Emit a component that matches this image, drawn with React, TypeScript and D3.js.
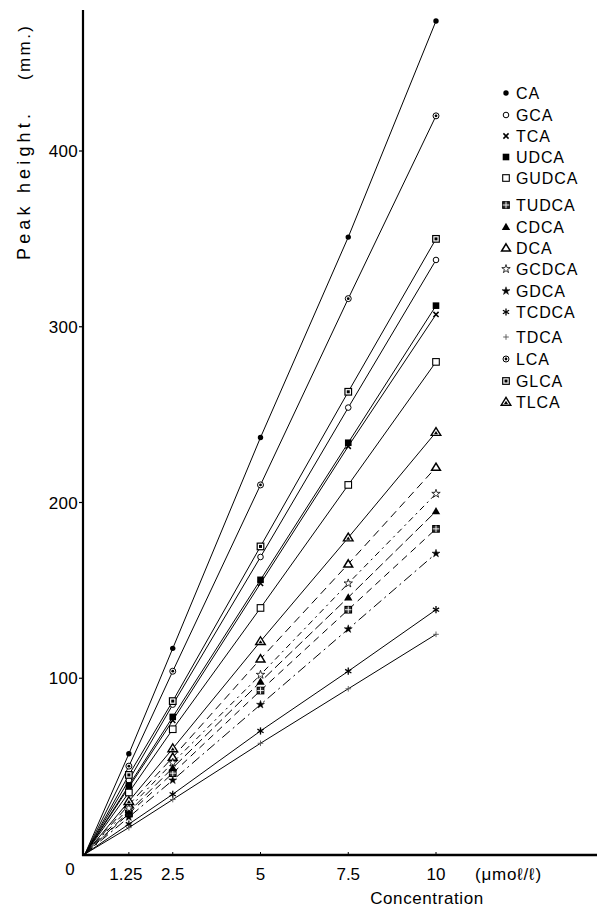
import React from "react";
import * as d3 from "d3";

const concentrations = [1.25, 2.5, 5, 7.5, 10];
const xTickLabels = ["1.25", "2.5", "5", "7.5", "10"];
const yTicks = [100, 200, 300, 400];

const seriesNames = ["CA", "GCA", "TCA", "UDCA", "GUDCA", "TUDCA", "CDCA", "DCA", "GCDCA", "GDCA", "TCDCA", "TDCA", "LCA", "GLCA", "TLCA"];

const CA = [57, 117, 237, 351, 474];
const GCA = [42, 85, 169, 254, 338];
const TCA = [38, 76, 154, 232, 307];
const UDCA = [39, 78, 156, 234, 312];
const GUDCA = [35, 71, 140, 210, 280];
const TUDCA = [23, 46, 93, 139, 185];
const CDCA = [24, 49, 98, 146, 195];
const DCA = [28, 55, 111, 165, 220];
const GCDCA = [26, 52, 102, 154, 205];
const GDCA = [21, 42, 85, 128, 171];
const TCDCA = [17, 34, 70, 104, 139];
const TDCA = [15, 31, 63, 94, 125];
const LCA = [50, 104, 210, 316, 420];
const GLCA = [45, 87, 175, 263, 350];
const TLCA = [30, 60, 121, 180, 240];

const seriesValues: Record<string, number[]> = { CA, GCA, TCA, UDCA, GUDCA, TUDCA, CDCA, DCA, GCDCA, GDCA, TCDCA, TDCA, LCA, GLCA, TLCA };

const markerType: Record<string, string> = {
  CA: "dot", GCA: "ocircle", TCA: "x", UDCA: "fsquare", GUDCA: "osquare", TUDCA: "xsquare",
  CDCA: "ftri", DCA: "otri", GCDCA: "ostar", GDCA: "fstar", TCDCA: "asterisk", TDCA: "plus",
  LCA: "dotcircle", GLCA: "dsquare", TLCA: "dtri",
};

const dashes: Record<string, string | undefined> = {
  DCA: "8,5", GCDCA: "6,4,2,4", CDCA: "10,4", TUDCA: "7,5", GDCA: "10,4,2,4",
};

const FONT = "'Liberation Sans', Arial, Helvetica, sans-serif";

function Marker({ type, cx, cy }: { type: string; cx: number; cy: number }) {
  const s = 3.3;
  const k = "#000";
  switch (type) {
    case "dot":
      return <circle cx={cx} cy={cy} r={2.7} fill={k} />;
    case "ocircle":
      return <circle cx={cx} cy={cy} r={2.8} fill="#fff" stroke={k} strokeWidth={1} />;
    case "dotcircle":
      return (
        <g>
          <circle cx={cx} cy={cy} r={3} fill="#fff" stroke={k} strokeWidth={1} />
          <circle cx={cx} cy={cy} r={1.4} fill={k} />
        </g>
      );
    case "x":
      return (
        <g stroke={k} strokeWidth={1.5}>
          <line x1={cx - 2.6} y1={cy - 2.6} x2={cx + 2.6} y2={cy + 2.6} />
          <line x1={cx - 2.6} y1={cy + 2.6} x2={cx + 2.6} y2={cy - 2.6} />
        </g>
      );
    case "fsquare":
      return <rect x={cx - s} y={cy - s} width={2 * s} height={2 * s} fill={k} />;
    case "osquare":
      return <rect x={cx - s} y={cy - s} width={2 * s} height={2 * s} fill="#fff" stroke={k} strokeWidth={1.1} />;
    case "dsquare":
      return (
        <g>
          <rect x={cx - s} y={cy - s} width={2 * s} height={2 * s} fill="#fff" stroke={k} strokeWidth={1.2} />
          <rect x={cx - 1.5} y={cy - 1.5} width={3} height={3} fill={k} />
        </g>
      );
    case "xsquare":
      return (
        <g>
          <rect x={cx - s} y={cy - s} width={2 * s} height={2 * s} fill="#333" stroke={k} strokeWidth={1.1} />
          <line x1={cx - s} y1={cy} x2={cx + s} y2={cy} stroke="#fff" strokeWidth={0.9} />
          <line x1={cx} y1={cy - s} x2={cx} y2={cy + s} stroke="#fff" strokeWidth={0.9} />
        </g>
      );
    case "ftri":
      return <path d={`M${cx},${cy - 4.2}L${cx + 4.2},${cy + 3}L${cx - 4.2},${cy + 3}Z`} fill={k} />;
    case "otri":
      return <path d={`M${cx},${cy - 4.2}L${cx + 4.4},${cy + 3}L${cx - 4.4},${cy + 3}Z`} fill="#fff" stroke={k} strokeWidth={1.5} />;
    case "dtri":
      return (
        <g>
          <path d={`M${cx},${cy - 4.6}L${cx + 4.8},${cy + 3.2}L${cx - 4.8},${cy + 3.2}Z`} fill="#fff" stroke={k} strokeWidth={1.4} />
          <path d={`M${cx},${cy - 1.2}L${cx + 2},${cy + 2}L${cx - 2},${cy + 2}Z`} fill={k} />
        </g>
      );
    case "ostar":
    case "fstar": {
      const star = d3.symbol().type(d3.symbolStar).size(type === "ostar" ? 22 : 20)();
      return (
        <path
          d={star || ""}
          transform={`translate(${cx},${cy})`}
          fill={type === "ostar" ? "#fff" : k}
          stroke={k}
          strokeWidth={type === "ostar" ? 0.8 : 0.5}
        />
      );
    }
    case "asterisk":
      return (
        <g stroke={k} strokeWidth={1.3}>
          {[0, 60, 120].map((a) => {
            const r = (a * Math.PI) / 180;
            const dx = 3.6 * Math.sin(r);
            const dy = 3.6 * Math.cos(r);
            return <line key={a} x1={cx - dx} y1={cy - dy} x2={cx + dx} y2={cy + dy} />;
          })}
        </g>
      );
    case "plus":
      return (
        <g stroke="#555" strokeWidth={0.9}>
          <line x1={cx - 2.8} y1={cy} x2={cx + 2.8} y2={cy} />
          <line x1={cx} y1={cy - 2.8} x2={cx} y2={cy + 2.8} />
        </g>
      );
    default:
      return null;
  }
}

export default function App() {
  const width = 597;
  const height = 914;
  const x = d3.scaleLinear().domain([0, 10]).range([85, 436]);
  const y = d3.scaleLinear().domain([0, 400]).range([854, 151]);
  const axisX = 83;

  const line = d3
    .line<[number, number]>()
    .x((d) => x(d[0]))
    .y((d) => y(d[1]));

  const legendY = [93, 115, 136, 157, 178, 205, 227, 248, 269, 291, 312, 337, 359, 381, 402];

  return (
    <svg
      width={width}
      height={height}
      style={{ position: "absolute", left: 0, top: 0, background: "#fff" }}
      fontFamily={FONT}
    >
      <rect x={0} y={0} width={width} height={height} fill="#fff" />
      {seriesNames.map((name) => {
        const pts: [number, number][] = [[0, 0], ...concentrations.map((c, i) => [c, seriesValues[name][i]] as [number, number])];
        return (
          <path
            key={name}
            d={line(pts) || ""}
            fill="none"
            stroke="#000"
            strokeWidth={1}
            strokeDasharray={dashes[name]}
          />
        );
      })}
      {seriesNames.map((name) => (
        <g key={name + "-m"}>
          {concentrations.map((c, i) => (
            <Marker key={i} type={markerType[name]} cx={x(c)} cy={y(seriesValues[name][i])} />
          ))}
        </g>
      ))}
      <line x1={axisX} y1={10} x2={axisX} y2={856} stroke="#000" strokeWidth={2.2} />
      <line x1={axisX - 1} y1={855} x2={597} y2={855} stroke="#000" strokeWidth={2.6} />
      {yTicks.map((t) => (
        <g key={t}>
          <line x1={axisX - 4} y1={y(t)} x2={axisX} y2={y(t)} stroke="#000" strokeWidth={1.2} />
          <text x={axisX - 5} y={y(t) + 6} fontSize={17} textAnchor="end" letterSpacing={0.3}>
            {t}
          </text>
        </g>
      ))}
      {concentrations.map((c, i) => (
        <g key={c}>
          <line x1={x(c)} y1={852} x2={x(c)} y2={855} stroke="#000" strokeWidth={1} />
          <text x={x(c) - (i === 0 ? 3 : 0)} y={880} fontSize={17} textAnchor="middle">
            {xTickLabels[i]}
          </text>
        </g>
      ))}
      <text x={70} y={875} fontSize={17} textAnchor="middle">0</text>
      <text x={475} y={880} fontSize={17} letterSpacing={0.8}>(μmoℓ/ℓ)</text>
      <text x={427} y={904} fontSize={17} textAnchor="middle" letterSpacing={0.6}>Concentration</text>
      <text transform="translate(30,260) rotate(-90)" fontSize={18} textLength={146} lengthAdjust="spacing">
        Peak height.
      </text>
      <text transform="translate(30,80) rotate(-90)" fontSize={17} textLength={54} lengthAdjust="spacing">
        (mm.)
      </text>
      {seriesNames.map((name, i) => (
        <g key={name + "-l"}>
          <Marker type={markerType[name]} cx={506} cy={legendY[i]} />
          <text x={516} y={legendY[i] + 5.5} fontSize={16} letterSpacing={0.9}>
            {name}
          </text>
        </g>
      ))}
    </svg>
  );
}
